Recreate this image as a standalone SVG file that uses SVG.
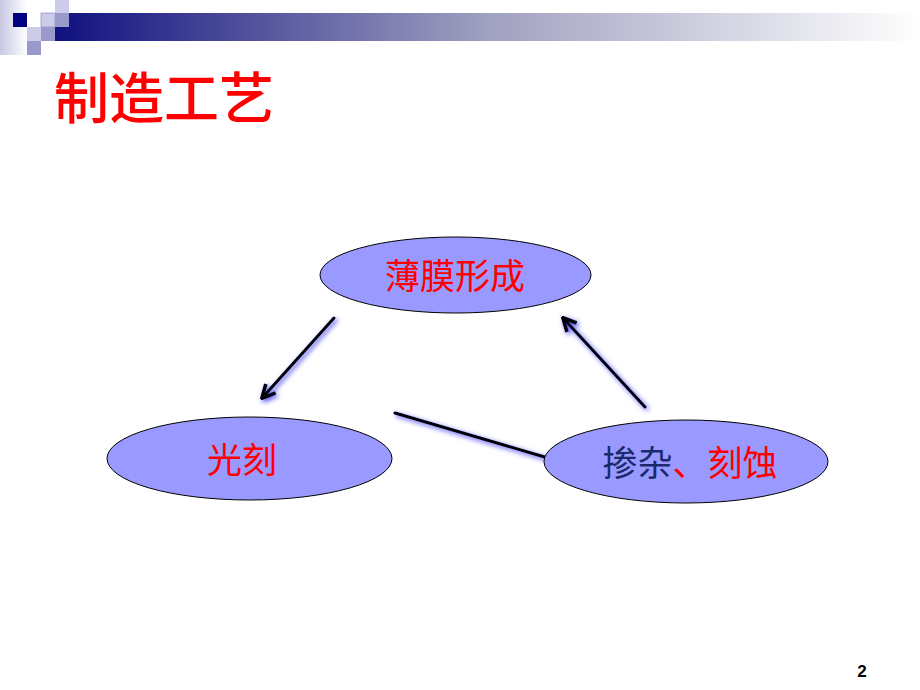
<svg xmlns="http://www.w3.org/2000/svg" width="920" height="690" viewBox="0 0 920 690">
  <defs>
    <linearGradient id="barGrad" x1="0" y1="0" x2="1" y2="0">
      <stop offset="0" stop-color="#101080"/>
      <stop offset="0.5" stop-color="#a0a0c0"/>
      <stop offset="1" stop-color="#ffffff"/>
    </linearGradient>
    <linearGradient id="leftGrad" x1="0" y1="0" x2="1" y2="0">
      <stop offset="0" stop-color="#c8c8e4"/>
      <stop offset="1" stop-color="#ffffff"/>
    </linearGradient>
    <filter id="glow" x="-20%" y="-20%" width="140%" height="140%">
      <feGaussianBlur in="SourceAlpha" stdDeviation="2.5" result="b"/>
      <feOffset dx="1.5" dy="1.5" in="b" result="o"/>
      <feFlood flood-color="#4444ee" flood-opacity="1"/>
      <feComposite in2="o" operator="in" result="s"/>
      <feMerge><feMergeNode in="s"/><feMergeNode in="SourceGraphic"/></feMerge>
    </filter>
    <marker id="arrow" viewBox="0 0 10 10" refX="8" refY="5" markerWidth="5.5" markerHeight="5.5" orient="auto" markerUnits="strokeWidth">
      <path d="M1,1 L9,5 L1,9" fill="none" stroke="#000" stroke-width="2.2"/>
    </marker>
  </defs>
  <style>
    .node ellipse { fill: #9999ff; stroke: #000; stroke-width: 1; }
    .lbl { font-family: "Noto Sans CJK SC", "Noto Sans", sans-serif; font-size: 35px; text-anchor: middle; }
    .red { fill: #ff0000; }
    .navy { fill: #1a2a6e; }
    .conn { stroke: #000; stroke-width: 3; fill: none; stroke-linecap: round; }
  </style>
  <rect width="920" height="690" fill="#ffffff"/>
  <g id="header">
    <rect x="0" y="0" width="27" height="55" fill="url(#leftGrad)"/>
    <rect x="55" y="13" width="865" height="28" fill="url(#barGrad)"/>
    <rect x="13" y="13" width="14" height="14" fill="#000080"/>
    <rect x="55" y="0" width="14" height="13" fill="#ccccea"/>
    <rect x="41" y="13" width="14" height="14" fill="#ccccea" stroke="#9999cc" stroke-width="0.8"/>
    <rect x="55" y="13" width="14" height="14" fill="#9999cc"/>
    <rect x="27" y="27" width="14" height="14" fill="#ccccea"/>
    <rect x="41" y="27" width="14" height="14" fill="#9999cc"/>
    <rect x="27" y="41" width="14" height="14" fill="#9999cc"/>
  </g>
  <text id="title" x="54" y="118" font-family="Noto Sans CJK SC, sans-serif" font-size="55" font-weight="500" fill="#ff0000">制造工艺</text>
  <g id="connectors">
    <line class="conn" x1="395" y1="413" x2="548" y2="458" filter="url(#glow)"/>
    <line class="conn" x1="334" y1="318" x2="263" y2="397" marker-end="url(#arrow)" filter="url(#glow)"/>
    <line class="conn" x1="645" y1="407" x2="564" y2="319" marker-end="url(#arrow)" filter="url(#glow)"/>
  </g>
  <g id="node-film" class="node">
    <ellipse cx="455.5" cy="275" rx="135.5" ry="38"/>
    <text class="lbl red" x="455" y="289" font-size="36">薄膜形成</text>
  </g>
  <g id="node-litho" class="node">
    <ellipse cx="249.5" cy="458.5" rx="142.5" ry="41.5"/>
    <text class="lbl red" x="242" y="473">光刻</text>
  </g>
  <g id="node-doping" class="node">
    <ellipse cx="686" cy="461.5" rx="142" ry="41.5"/>
    <text class="lbl" x="690" y="476"><tspan class="navy">掺杂</tspan><tspan class="red">、刻蚀</tspan></text>
  </g>
  <text id="page" x="862" y="677" font-family="Liberation Sans, Arial, sans-serif" font-size="17" font-weight="bold" text-anchor="middle" fill="#000">2</text>
</svg>
